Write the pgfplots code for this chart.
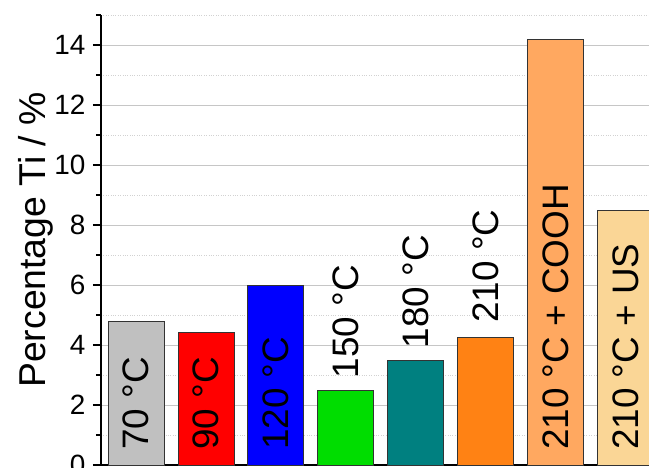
\documentclass[border=0pt]{standalone}
\usepackage{fontspec}
\setmainfont{Liberation Sans}
\usepackage{pgfplots}
\pgfplotsset{compat=1.18}
\definecolor{cgray}{RGB}{192,192,192}
\definecolor{cred}{RGB}{255,0,0}
\definecolor{cblue}{RGB}{0,0,255}
\definecolor{cgreen}{RGB}{0,221,0}
\definecolor{cteal}{RGB}{0,128,128}
\definecolor{corange}{RGB}{255,130,20}
\definecolor{clorange}{RGB}{255,168,96}
\definecolor{cyellow}{RGB}{250,214,150}
\begin{document}
\begin{tikzpicture}[x=1bp,y=1bp]
\useasboundingbox (-101,-3) rectangle (548,465);
\clip (-101,-3) rectangle (548,465);
\begin{axis}[
  at={(0,0)}, anchor=origin,
  scale only axis, width=559.5bp, height=450bp,
  xmin=0.5, xmax=8.5, ymin=0, ymax=15,
  axis lines=left, axis line style={-, line width=1.6pt},
  xtick=\empty,
  ytick={0,2,...,14}, minor ytick={1,3,...,15},
  tick align=outside, tick pos=left,
  major tick length=8bp, minor tick length=5bp,
  every tick/.style={black, line width=1.4pt},
  ymajorgrids, yminorgrids,
  major grid style={gray!45, line width=0.6pt},
  minor grid style={gray!35, dotted, line width=0.6pt},
  /pgf/number format/assume math mode=true,
  yticklabel style={font=\fontsize{28}{30}\selectfont, xshift=-4bp},
  ylabel={Percentage Ti / \%},
  ylabel style={font=\fontsize{37.5}{40}\selectfont},
  ylabel shift=-6bp,
  clip=false,
  ybar, bar width=56bp, bar shift=0pt,
]
\addplot[fill=cgray, draw=black!80, line width=0.8pt] coordinates {(1,4.8)};
\addplot[fill=cred, draw=black!80, line width=0.8pt] coordinates {(2,4.41)};
\addplot[fill=cblue, draw=black!80, line width=0.8pt] coordinates {(3,6.0)};
\addplot[fill=cgreen, draw=black!80, line width=0.8pt] coordinates {(4,2.49)};
\addplot[fill=cteal, draw=black!80, line width=0.8pt] coordinates {(5,3.49)};
\addplot[fill=corange, draw=black!80, line width=0.8pt] coordinates {(6,4.24)};
\addplot[fill=clorange, draw=black!80, line width=0.8pt] coordinates {(7,14.2)};
\addplot[fill=cyellow, draw=black!80, line width=0.8pt] coordinates {(8,8.48)};
\begin{scope}[every node/.style={rotate=90, anchor=west, inner sep=0pt, font=\fontsize{37}{40}\selectfont}]
\node at (axis cs:1,0.5) {70 °C};
\node at (axis cs:2,0.5) {90 °C};
\node at (axis cs:3,0.5) {120 °C};
\node at (axis cs:4,2.89) {150 °C};
\node at (axis cs:5,3.89) {180 °C};
\node at (axis cs:6,4.74) {210 °C};
\node at (axis cs:7,0.5) {210 °C + COOH};
\node at (axis cs:8,0.5) {210 °C + US};
\end{scope}
\end{axis}
\end{tikzpicture}
\end{document}
